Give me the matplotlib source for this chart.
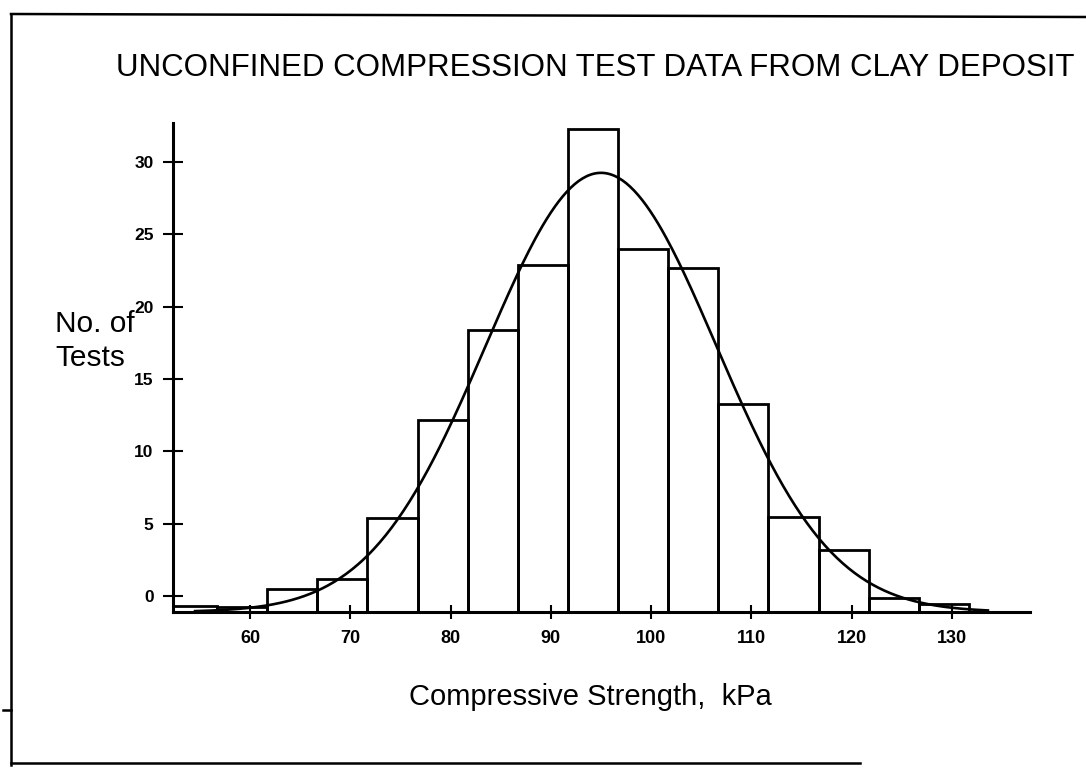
import numpy as np
import matplotlib
matplotlib.use('Agg')
import matplotlib.pyplot as plt
from matplotlib.lines import Line2D

plt.rcParams['font.family'] = ['Liberation Sans', 'DejaVu Sans']

# Data ------------------------------------------------------------------------
BIN_START = 51.7
BIN_W = 5.0
counts = [0.4, 0.35, 1.6, 2.3, 6.5, 13.3, 19.5, 24.0,
          33.4, 25.1, 23.8, 14.4, 6.6, 4.3, 1.0, 0.55]
# fitted normal curve parameters
(MU, SIGMA, N_TESTS) = (95.0, 11.5, 175)
(CURVE_X0, CURVE_X1) = (54.5, 133.6)
xTicks = [60, 70, 80, 90, 100, 110, 120, 130]
yTicks = [0, 5, 10, 15, 20, 25, 30]
# the scanned plot has its x axis drawn a little below the zero tick
BASE = -1.1
(XMIN, XMAX) = (52.3, 137.8)
(YMIN, YMAX) = (BASE, 32.7)

###############################################################################
# Figure
###############################################################################
(W, H) = (1086, 769)
fig = plt.figure(figsize=(W/100, H/100), dpi=100)
ax = fig.add_axes([173/W, 1-612/H, (1030-173)/W, (612-123)/H])

# Histogram bars --------------------------------------------------------------
lefts = BIN_START + BIN_W*np.arange(len(counts))
ax.bar(lefts, counts, width=BIN_W, align='edge', bottom=BASE,
       facecolor='none', edgecolor='black', lw=2.0, clip_on=True)
# Normal curve ----------------------------------------------------------------
xc = np.linspace(CURVE_X0, CURVE_X1, 400)
pdf = np.exp(-(xc-MU)**2/(2*SIGMA**2))/(SIGMA*np.sqrt(2*np.pi))
ax.plot(xc, BASE + N_TESTS*BIN_W*pdf, color='black', lw=1.9)

# Axes, ticks -----------------------------------------------------------------
ax.set_xlim(XMIN, XMAX)
ax.set_ylim(YMIN, YMAX)
for s in ['top', 'right']:
    ax.spines[s].set_visible(False)
for s in ['left', 'bottom']:
    ax.spines[s].set_linewidth(2.2)
ax.set_xticks(xTicks)
ax.set_yticks(yTicks)
ax.tick_params(axis='x', direction='inout', length=10, width=1.5, pad=8,
               labelsize=13)
ax.tick_params(axis='y', direction='inout', length=14, width=1.5, pad=7,
               labelsize=12.5)
for lb in ax.get_xticklabels() + ax.get_yticklabels():
    lb.set_fontweight('bold')

# Texts -----------------------------------------------------------------------
fig.text(595/W, 1-68/H, 'UNCONFINED COMPRESSION TEST DATA FROM CLAY DEPOSIT',
         ha='center', va='center', fontsize=22.5)
fig.text(55/W, 1-341/H, 'No. of\nTests', ha='left', va='center',
         multialignment='left', fontsize=21.5, linespacing=1.25)
fig.text(590/W, 1-697/H, 'Compressive Strength,  kPa', ha='center',
         va='center', fontsize=21)

# Page frame of the scan ------------------------------------------------------
frame = [
    ([11, W], [14, 17]),
    ([11, 11], [14, 765]),
    ([11, 860], [763, 763]),
    ([3, 11], [710, 710]),
]
for (fx, fy) in frame:
    fig.add_artist(Line2D([i/W for i in fx], [1-j/H for j in fy],
                          transform=fig.transFigure, color='black', lw=1.8))

fig.savefig('out.png', dpi=100)
plt.close(fig)
